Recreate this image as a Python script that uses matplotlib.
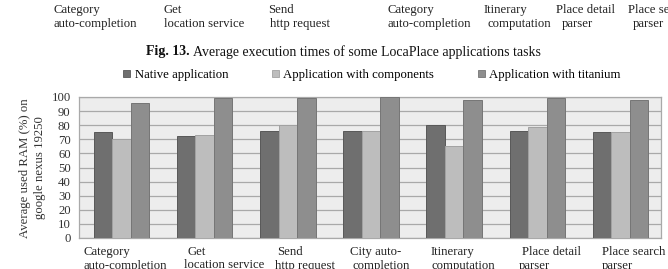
import matplotlib
matplotlib.use("Agg")
import matplotlib.pyplot as plt
from matplotlib.patches import Patch
import numpy as np

plt.rcParams["font.family"] = ["Liberation Serif", "DejaVu Serif"]

# data
categories = [
    ("Category", "auto-completion"),
    ("Get", "location service"),
    ("Send", "http request"),
    ("City auto-", "completion"),
    ("Itinerary", "computation"),
    ("Place detail", "parser"),
    ("Place search", "parser"),
]
native = [75, 72, 76, 76, 80, 76, 75]
components = [70, 73, 80, 76, 65, 79, 75]
titanium = [96, 99, 99, 100, 98, 99, 98]
series_names = ["Native application", "Application with components", "Application with titanium"]

# cropped labels of the previous figure at the top of the page
top_labels = [
    ("Category", "auto-completion"),
    ("Get", "location service"),
    ("Send", "http request"),
    ("Category", "auto-completion"),
    ("Itinerary", "computation"),
    ("Place detail", "parser"),
    ("Place search", "parser"),
]
top_x = [(53, 53), (163, 164), (268, 270), (388, 388), (484, 487), (556, 562), (628, 633)]
tick_x = [(84, 84), (187, 184), (277, 275), (350, 352), (431, 432), (522, 519), (602, 602)]

W, H = 668, 269
fig = plt.figure(figsize=(W / 100, H / 100), dpi=100)
fig.patch.set_facecolor("white")


def fx(x):
    return x / W


def fy(y):
    return 1 - y / H


FS = 9.2
left, right, top, bot = 79, 661, 97, 238
ax = fig.add_axes([fx(left), fy(bot), (right - left) / W, (bot - top) / H])
ax.set_facecolor("#ededed")

x = np.arange(len(categories))
bw = 0.222
cols = ["#6f6f6f", "#bdbdbd", "#8e8e8e"]
edges = ["#585858", "#a2a2a2", "#757575"]
for i, vals in enumerate([native, components, titanium]):
    ax.bar(x + (i - 1) * bw + 0.012, vals, bw, color=cols[i], edgecolor=edges[i],
           linewidth=0.7, zorder=3)

ax.set_xlim(-0.5, len(categories) - 0.5)
ax.set_ylim(0, 100)
ax.set_yticks(range(0, 101, 10))
ax.yaxis.grid(True, color="#a9a9a9", lw=0.9, zorder=0)
ax.set_axisbelow(True)
ax.set_xticks([])
ax.tick_params(axis="y", length=0, pad=6, labelsize=FS, colors="#333333")
for s in ax.spines.values():
    s.set_color("#a9a9a9")
    s.set_linewidth(0.9)

# x category labels (two lines, left aligned as in the source)
for (l1, l2), (x1, x2) in zip(categories, tick_x):
    fig.text(fx(x1), fy(252), l1, ha="left", va="center", fontsize=FS, color="#222")
    fig.text(fx(x2), fy(265.5), l2, ha="left", va="center", fontsize=FS, color="#222")

# y label
fig.text(fx(25), fy(168), "Average used RAM (%) on", rotation=90, ha="center", va="center",
         fontsize=FS, color="#333")
fig.text(fx(40), fy(168), "google nexus 19250", rotation=90, ha="center", va="center",
         fontsize=FS, color="#333")

# legend
handles = [Patch(facecolor=cols[i], edgecolor=edges[i], lw=0.6) for i in range(3)]
fig.legend(handles, series_names, loc="center", bbox_to_anchor=(fx(372), fy(75)), ncol=3,
           frameon=False, fontsize=FS, handlelength=0.55, handleheight=0.55,
           handletextpad=0.35, columnspacing=3.4, borderaxespad=0, borderpad=0)

# top cropped labels
for (l1, l2), (x1, x2) in zip(top_labels, top_x):
    fig.text(fx(x1), fy(10), l1, ha="left", va="center", fontsize=FS, color="#222")
    fig.text(fx(x2), fy(24), l2, ha="left", va="center", fontsize=FS, color="#222")

# caption
r = fig.canvas.get_renderer()
t = fig.text(fx(146), fy(52), "Fig. 13.", ha="left", va="center", fontsize=10,
             fontweight="bold", color="#111")
bb = t.get_window_extent(renderer=r)
fig.text(bb.x1 / W + 0.005, fy(52), "Average execution times of some LocaPlace applications tasks",
         ha="left", va="center", fontsize=10, color="#111")

fig.savefig("out.png", dpi=100, facecolor="white")
